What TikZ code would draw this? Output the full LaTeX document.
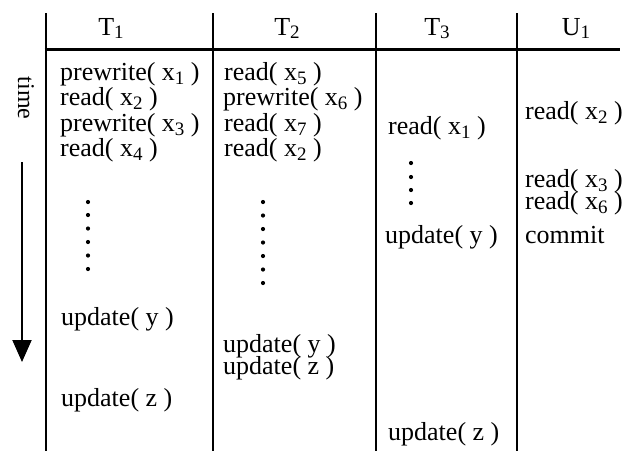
\documentclass[tikz,border=0pt]{standalone}
\usepackage{fontspec}
\setmainfont{Liberation Serif}
\usetikzlibrary{arrows.meta}
% subscripted item name, e.g. x_1, with the index set smaller and lowered
\newcommand{\xs}[1]{x\raisebox{-4pt}{\fontsize{19}{19}\selectfont #1}}
\newcommand{\hs}[2]{#1\raisebox{-3pt}{\fontsize{19}{19}\selectfont #2}}
\begin{document}
\begin{tikzpicture}[x=1pt,y=-1pt,
  op/.style={anchor=base west, inner sep=0pt, font=\fontsize{26}{26}\selectfont},
  hdr/.style={anchor=base, inner sep=0pt, font=\fontsize{26}{26}\selectfont},
  rule/.style={line width=2.6pt},
  dotmark/.style={radius=2.1pt}]
\useasboundingbox (0,0) rectangle (630,451);

% table frame
\draw[rule] (46,13) -- (46,451);
\draw[rule] (213,13) -- (213,451);
\draw[rule] (376,13) -- (376,451);
\draw[rule] (517,13) -- (517,451);
\draw[line width=3pt] (44.7,49) -- (620,49);

% column headers
\node[hdr] (hT1) at (111,35) {\hs{T}{1}};
\node[hdr] (hT2) at (287,35) {\hs{T}{2}};
\node[hdr] (hT3) at (437,35) {\hs{T}{3}};
\node[hdr] (hU1) at (576,35) {\hs{U}{1}};

% time axis
\node[inner sep=0pt, rotate=-90, font=\fontsize{24}{24}\selectfont] (time) at (26,98) {time};
\coordinate (tstart) at (22,162);
\coordinate (tend) at (22,362);
\draw[line width=2pt, -{Triangle[width=19pt,length=22pt]}] (tstart) -- (tend);

% T1
\node[op] (a1) at (60,80) {prewrite( \xs{1} )};
\node[op] (a2) at (60,105.5) {read( \xs{2} )};
\node[op] (a3) at (60,131) {prewrite( \xs{3} )};
\node[op] (a4) at (60,156.5) {read( \xs{4} )};
\foreach \y in {202,215,228.5,242,255.5,269} \fill (88,\y) circle[dotmark];
\node[op] (a5) at (61,325) {update( y )};
\node[op] (a6) at (61,406) {update( z )};

% T2
\node[op] (b1) at (224,80) {read( \xs{5} )};
\node[op] (b2) at (223,105.5) {prewrite( \xs{6} )};
\node[op] (b3) at (224,131) {read( \xs{7} )};
\node[op] (b4) at (224,156.5) {read( \xs{2} )};
\foreach \y in {202,215.5,229,242.5,256,269.5,283} \fill (263,\y) circle[dotmark];
\node[op] (b5) at (223,352) {update( y )};
\node[op] (b6) at (223,374) {update( z )};

% T3
\node[op] (c1) at (388,134) {read( \xs{1} )};
\foreach \y in {163,177,190,203} \fill (411,\y) circle[dotmark];
\node[op] (c2) at (385,243) {update( y )};
\node[op] (c3) at (388,440) {update( z )};

% U1
\node[op] (d1) at (525,119) {read( \xs{2} )};
\node[op] (d2) at (525,187) {read( \xs{3} )};
\node[op] (d3) at (525,209) {read( \xs{6} )};
\node[op] (d4) at (525,243) {commit};
\end{tikzpicture}
\end{document}
